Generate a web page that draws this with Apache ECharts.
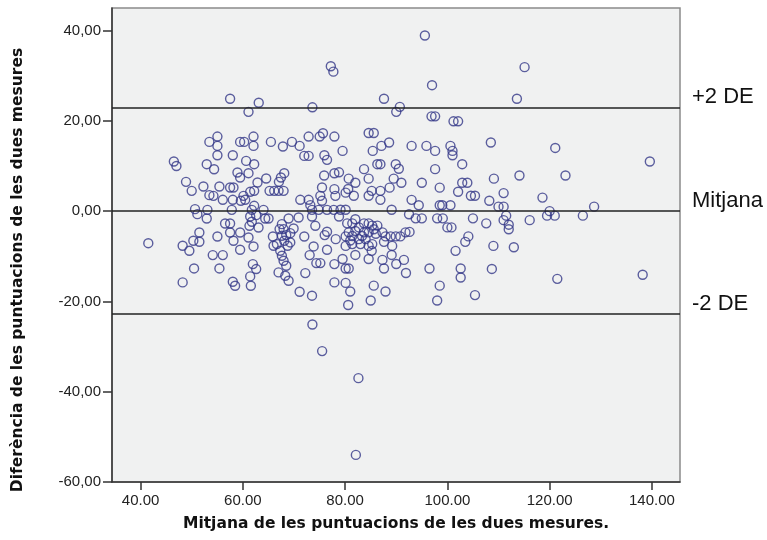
<!DOCTYPE html>
<html>
<head>
<meta charset="utf-8">
<script src="https://cdn.jsdelivr.net/npm/echarts@6/dist/echarts.min.js"></script>
<style>html,body{margin:0;padding:0;background:#fff}#c{width:767px;height:540px}</style>
</head>
<body>
<div id="c"></div>
<script>
// [mean of the two measures, difference]
var outerPoints = [
[95.6,38.9],[77.2,32.1],[77.7,30.9],[115.1,31.9],[97.0,27.9],[57.5,24.9],[63.1,24.0],[61.1,22.0],[73.6,23.0],[87.6,24.9],[90.7,23.1],[90.0,22.0],[113.6,24.9],[96.9,21],[97.6,21],[101.2,19.9],[102.1,19.9],
[73.6,-25.1],[75.5,-31],[82.6,-37],[82.1,-54],[138.2,-14.1],[139.6,11],[41.5,-7.1],[46.5,11],[47,10],
[121.1,14],[114.1,7.9],[123.1,7.9],[111,4],[118.6,3],[110,1],[111,1],[128.7,1],[120,0],[119.5,-1],[121,-1],[126.5,-1],[116.1,-2],[111,-2],[111.5,-1],[112,-3],[112,-4],[113,-8],[121.5,-15]
];
var leftPoints = [
[53.45,15.34],[55.02,16.52],[55.02,14.45],[55.02,12.39],[59.46,15.34],[60.25,15.34],[62.08,16.52],[62.08,14.45],[65.48,15.34],[67.83,14.31],[69.6,15.34],[71.1,14.45],[72.86,16.52],[75.02,16.52],[75.67,17.26],[77.9,16.52],[72.01,12.24],[72.86,12.24],[75.94,12.39],[76.46,11.36],
[52.93,10.4],[54.37,9.29],[58.03,12.39],[60.64,11.13],[62.21,10.4],[58.94,8.55],[59.46,7.45],[61.1,8.41],[64.56,7.23],[62.86,6.34],[67.44,7.45],[68.09,8.41],[67.05,6.49],[75.9,7.9],[77.9,8.4],
[48.88,6.49],[49.99,4.5],[52.28,5.46],[53.45,3.54],[54.24,3.39],[55.41,5.46],[57.5,5.23],[58.16,5.23],[56.07,2.51],[58.03,2.51],[60.12,3.39],[60.45,2.51],[61.43,4.28],[62.21,4.5],[65.22,4.5],[66.13,4.5],[66.98,4.5],[67.96,4.5],
[71.23,2.51],[72.86,2.51],[73.19,1.33],[75.15,3.39],[75.48,5.23],[75.48,2.29],[77.9,4.87],[78.09,3.39],
[50.64,0.44],[53.06,0.29],[57.83,0.29],[61.75,0.29],[64.04,0.29],[73.52,0.29],[74.82,0.29],[76.46,0.29],[77.77,0.29],[59.6,2.29],[62.21,1.18],
[51.1,-0.67],[52.93,-1.62],[61.43,-1.18],[62.6,-0.89],[64.37,-1.62],[65.02,-1.62],[68.94,-1.62],[70.9,-1.4],[73.52,-1.18],
[56.52,-2.73],[57.5,-2.73],[61.75,-2.36],[61.29,-3.25],[63.06,-3.62],[67.63,-2.88],[67.96,-3.98],[69.92,-3.84],[74.17,-3.25],[67.18,-3.98],
[57.5,-4.72],[59.46,-4.72],[51.49,-4.72],[55.02,-5.61],[61.1,-5.83],[65.87,-5.61],[68.48,-5.31],[69.27,-4.87],[72.01,-5.61],[76.0,-5.31],[76.46,-4.57],[78.16,-6.2],[67.63,-5.46],
[50.31,-6.56],[51.49,-6.79],[58.16,-6.56],[66.0,-7.67],[66.65,-7.3],[69.27,-6.93],[73.84,-7.82],[62.08,-7.82],[68.09,-6.56],[68.75,-7.67],
[48.22,-7.67],[49.53,-8.78],[59.46,-8.56],[67.31,-8.78],[76.46,-8.56],
[54.11,-9.74],[56.07,-9.74],[73.06,-9.74],[67.63,-9.88],[67.96,-10.99],[74.37,-11.51],[75.15,-11.51],[77.9,-11.73],[61.95,-11.73],[68.48,-12.1],
[50.45,-12.69],[55.41,-12.69],[62.6,-12.83],[66.98,-13.57],[72.21,-13.72],[61.43,-14.46],[68.29,-14.31],
[48.22,-15.78],[58.03,-15.64],[68.94,-15.41],[77.9,-15.78],[58.48,-16.52],[61.56,-16.52],
[71.1,-17.85],[73.52,-18.73]
];
var rightPoints = [
[84.6,17.3],[85.6,17.3],[79.5,13.35],[85.4,13.35],[87.1,14.45],[88.6,15.2],[93.0,14.45],[95.9,14.45],[97.6,13.35],[100.6,14.45],[101.0,13.35],[101.0,12.39],[102.9,10.4],[108.5,15.2],
[86.3,10.4],[86.9,10.4],[83.7,9.3],[89.9,10.4],[90.5,9.4],[91.0,6.3],[97.6,9.3],[84.6,7.2],[80.7,7.2],[78.8,8.6],[82.0,6.3],[80.6,4.9],[80.1,4.1],[81.7,3.4],[84.6,3.4],[85.2,4.5],[86.9,4.5],[86.9,2.5],[88.7,5.2],[89.5,7.2],[95.0,6.3],[98.5,5.2],[102.1,4.3],[102.9,6.3],[103.9,6.3],[104.6,3.4],[105.4,3.4],[108.2,2.3],[109.1,7.2],[93.0,2.5],[94.4,1.3],[98.5,1.3],[99.0,1.3],[100.6,1.3],
[79.1,0.3],[80.1,0.3],[89.1,0.3],[92.5,-0.7],[93.8,-1.6],[95.0,-1.6],[98.0,-1.6],[99.1,-1.6],[100.0,-3.6],[100.8,-3.6],[105.0,-1.6],[107.6,-2.7],
[78.8,-1.2],[80.4,-2.7],[81.4,-2.7],[82.0,-1.8],[83.7,-2.7],[84.6,-2.7],[85.3,-3.2],[86.3,-3.2],[80.7,-4.7],[82.0,-4.4],[83.7,-4.7],[84.6,-4.7],[85.6,-4.0],[87.3,-4.7],[87.9,-5.6],[88.9,-5.6],[89.9,-5.6],[90.8,-5.6],[91.8,-4.7],[92.6,-4.6],[80.1,-5.6],[81.4,-5.5],[82.7,-6.2],[84.0,-6.2],[82.7,-3.6],[83.3,-5.5],[81.0,-6.5],[86.0,-5.0],
[80.1,-7.7],[81.4,-7.3],[83.0,-7.3],[84.6,-7.7],[85.3,-7.3],[87.6,-6.8],[89.2,-7.7],[85.2,-8.8],[89.1,-9.7],[82.0,-9.7],[84.6,-10.6],[79.5,-10.6],[80.1,-12.7],[80.7,-12.7],[87.3,-10.8],[87.6,-12.7],[90.0,-11.7],[91.5,-10.8],[91.9,-13.7],
[80.1,-15.9],[81.0,-17.8],[85.6,-16.5],[87.9,-17.8],[85.0,-19.8],[80.6,-20.8],[96.5,-12.7],[98.5,-16.5],[98.0,-19.8],[102.6,-12.7],[102.6,-14.7],[105.4,-18.6],[101.6,-8.8],[103.5,-6.8],[104.1,-5.6],[109.0,-7.7],[108.7,-12.8]
];
var xTicks = [40, 60, 80, 100, 120, 140];
var yTicks = [-60, -40, -20, 0, 20, 40];
var refNames = ['+2 DE', 'Mitjana', '-2 DE'];
var refValues = [23.0, 0.1, -22.7];

var points = outerPoints.concat(leftPoints, rightPoints);
var chart = echarts.init(document.getElementById('c'), null, {renderer: 'canvas'});
var tickFont = {fontFamily: 'Liberation Sans, Arial, sans-serif', fontSize: 15, color: '#222'};
chart.setOption({
  animation: false,
  backgroundColor: '#ffffff',
  grid: {
    left: 112, right: 87, top: 8, bottom: 58,
    show: true, backgroundColor: '#f0f1f1', borderColor: '#8a8a8a', borderWidth: 1.5,
    containLabel: false, outerBoundsMode: 'none'
  },
  xAxis: {
    type: 'value', min: 34.4, max: 145.5,
    name: 'Mitjana de les puntuacions de les dues mesures.',
    nameLocation: 'middle', nameGap: 34,
    nameTextStyle: {fontFamily: 'DejaVu Sans, sans-serif', fontWeight: 'bold', fontSize: 15.5, color: '#111'},
    axisLine: {show: true, onZero: false, lineStyle: {color: '#333', width: 1.5}},
    axisTick: {show: true, inside: false, length: 8, customValues: xTicks, lineStyle: {color: '#333', width: 1.5}},
    axisLabel: Object.assign({margin: 11, customValues: xTicks, formatter: function (v) { return v.toFixed(2); }}, tickFont),
    splitLine: {show: false}
  },
  yAxis: {
    type: 'value', min: -60, max: 45,
    name: 'Diferència de les puntuacions de les dues mesures',
    nameLocation: 'middle', nameGap: 86, nameRotate: 90,
    nameTextStyle: {fontFamily: 'DejaVu Sans, sans-serif', fontWeight: 'bold', fontSize: 15.5, color: '#111', padding: [0, 50, 0, 0]},
    axisLine: {show: true, onZero: false, lineStyle: {color: '#333', width: 1.5}},
    axisTick: {show: true, inside: false, length: 9, customValues: yTicks, lineStyle: {color: '#333', width: 1.5}},
    axisLabel: Object.assign({margin: 11, customValues: yTicks, formatter: function (v) { return v.toFixed(2).replace('.', ','); }}, tickFont),
    splitLine: {show: false}
  },
  series: [{
    type: 'scatter',
    data: points,
    symbol: 'circle',
    symbolSize: 9,
    itemStyle: {color: 'rgba(0,0,0,0)', borderColor: '#343888', borderWidth: 1.4},
    markLine: {
      silent: true,
      symbol: ['none', 'none'],
      lineStyle: {color: '#222', width: 1.6, type: 'solid'},
      label: {
        show: true, position: 'end', distance: 12,
        fontFamily: 'Liberation Sans, Arial, sans-serif', fontSize: 22, color: '#111',
        lineHeight: 20,
        formatter: function (p) { return p.name + '\n '; }
      },
      data: refNames.map(function (n, i) { return {name: n, yAxis: refValues[i]}; })
    }
  }]
});
</script>
</body>
</html>
